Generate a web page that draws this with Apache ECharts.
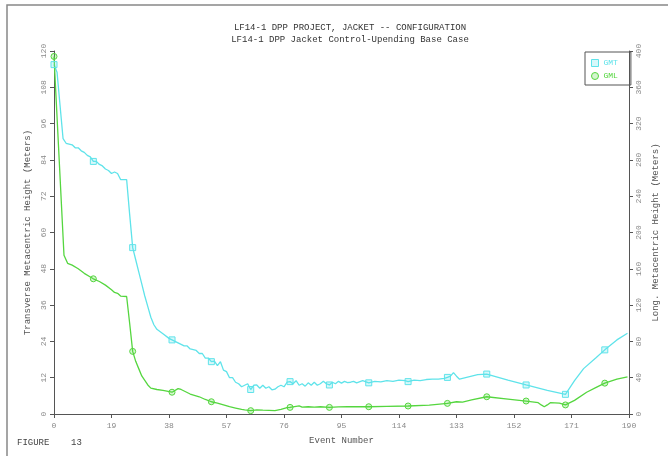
<!DOCTYPE html>
<html>
<head>
<meta charset="utf-8">
<script src="https://cdn.jsdelivr.net/npm/echarts@6/dist/echarts.min.js"></script>
<style>html,body{margin:0;padding:0;background:#fff}#c{width:668px;height:456px}</style>
</head>
<body>
<div id="c"></div>
<script>
// ---- data ----
var titleLines = ['LF14-1 DPP PROJECT, JACKET -- CONFIGURATION', 'LF14-1 DPP Jacket Control-Upending Base Case'];
var xTicks = [0, 19, 38, 57, 76, 95, 114, 133, 152, 171, 190];
var markerEvents = [0, 13, 26, 39, 52, 65, 78, 91, 104, 117, 130, 143, 156, 169, 182];

// GMT (Transverse, left axis, meters)
var gmtX = [0,1,2,3,4,6,7,8,9,10,11,12,13,14,15,16,17,18,19,20,21,22,24,25,26,27,28,29,30,31,32,33,34,36,38,39,41,43,44,45,47,48,49,50,51,52,53,54,55,56,57,58,59,60,61,62,63,64,65,66,67,68,69,70,71,72,73,74,75,76,77,78,79,80,81,82,83,84,85,86,87,88,89,90,91,92,93,94,95,96,97,98,99,100,102,104,106,108,110,112,114,116,117,119,121,123,125,127,129,130,131,132,133,134,136,140,143,150,156,163,169,172,175,179,182,186,189.5];
var gmtY = [115.5,113,102,91,89.5,89,88,88,87,86.5,85.5,85,83.5,83.5,82.5,82,81,80.5,79.5,80,79.5,77.5,77.5,66,55,51,47,43,39,35.5,32,29.5,28,26.5,25,24.5,23.5,22.5,22.5,21.5,21,20,20,18.5,18.5,17.3,17.5,16,17.3,14.5,14,12,12,10.5,10,9,9.5,10,8.1,9.5,9.6,8.5,9.5,8.5,9,8,8.2,9,9.5,9,10.5,10.7,10,11,9.5,10,9.2,10.3,9.5,10.5,9.5,10,10.8,10,9.6,10.5,10,10.8,10.2,10.8,10.4,10.5,10.8,10.3,11,10.3,10.8,10.6,11,10.8,11.2,11,10.7,11.2,11,11.4,11.5,11.5,11.8,12.1,12.5,13.7,12.5,11.5,12,13,13.2,11.2,9.6,7.8,6.5,11,15,18.5,21.2,24.5,26.7];

// GML (Longitudinal, right axis, meters)
var gmlX = [0,3.3,4.5,6,8,10,12,13,15,17,19,20,21,22,24,25,26,27,28,29,30,31,32,34,36,39,41,42,45,48,50,52,54,56,58,60,62,63,65,67,69,71,73,75,77,78,80,81,82,84,86,88,91,94,97,100,104,110,117,124,130,133,135,138,143,150,156,160,161,162,163,164,167,169,172,176,179,182,186,189.5];
var gmlY = [394,175,166,164,160,155,151,149,146,142,137,134,133,130,129.5,100,69,58,50,42,37,32,28.5,27,26,24,28,27,22,19,16,13.5,12,10,8,6.5,5,4.5,3.7,4.5,4.2,4,3.8,5,7,7.3,8.5,9,7.5,8,7.5,8,7.3,7.8,8,8.2,8,8.5,8.8,9.8,11.7,13.5,13,15.5,19,16.5,14.3,12.5,10,8,10,12.5,12,10,15,24,29,34,38.5,41];

var colGMT = '#5fe3ea';
var colGML = '#55d63f';
var fontFam = '"Liberation Mono", "DejaVu Sans Mono", monospace';

function build(xs, ys, sym) {
  return xs.map(function (x, i) {
    var item = { value: [x, ys[i]] };
    if (markerEvents.indexOf(x) >= 0) { item.symbol = sym; item.symbolSize = 6; }
    else { item.symbol = 'none'; }
    return item;
  });
}

var chart = echarts.init(document.getElementById('c'), null, { renderer: 'canvas' });
var axisCommon = {
  axisLine: { show: true, lineStyle: { color: '#555', width: 1 } },
  axisTick: { show: true, length: 4, lineStyle: { color: '#555' } },
  splitLine: { show: false },
  axisLabel: { fontFamily: fontFam, fontSize: 8, color: '#888' },
  nameTextStyle: { fontFamily: fontFam, fontSize: 9, color: '#555' }
};
chart.setOption({
  animation: false,
  backgroundColor: '#fff',
  title: {
    text: titleLines.join('\n'),
    left: 345, top: 17, textAlign: 'center',
    textStyle: { fontFamily: fontFam, fontSize: 9, fontWeight: 'normal', color: '#333', lineHeight: 12 }
  },
  legend: {
    orient: 'vertical',
    left: 585, top: 52,
    padding: [7, 13, 5, 6],
    itemGap: 5,
    itemWidth: 7, itemHeight: 7,
    borderColor: '#555', borderWidth: 1,
    textStyle: { fontFamily: fontFam, fontSize: 8 },
    data: [
      { name: 'GMT', icon: 'rect', itemStyle: { color: 'rgba(95,227,234,0.25)', borderColor: colGMT, borderWidth: 1 }, textStyle: { color: colGMT } },
      { name: 'GML', icon: 'circle', itemStyle: { color: 'rgba(85,214,63,0.25)', borderColor: colGML, borderWidth: 1 }, textStyle: { color: colGML } }
    ]
  },
  grid: { left: 54, right: 34, top: 51, bottom: 42, containLabel: false },
  xAxis: Object.assign({}, axisCommon, {
    type: 'value', min: 0, max: 190, interval: 19,
    name: 'Event Number', nameLocation: 'middle', nameGap: 22,
    axisLabel: Object.assign({}, axisCommon.axisLabel, { margin: 8, customValues: xTicks }),
    axisTick: Object.assign({}, axisCommon.axisTick, { customValues: xTicks })
  }),
  yAxis: [
    Object.assign({}, axisCommon, {
      type: 'value', min: 0, max: 120, interval: 12, position: 'left',
      name: 'Transverse Metacentric Height (Meters)', nameLocation: 'middle', nameGap: 14, nameRotate: 90,
      axisLabel: Object.assign({}, axisCommon.axisLabel, { rotate: 90, margin: 6 })
    }),
    Object.assign({}, axisCommon, {
      type: 'value', min: 0, max: 400, interval: 40, position: 'right',
      name: 'Long. Metacentric Height (Meters)', nameLocation: 'middle', nameGap: 22, nameRotate: 90,
      axisLabel: Object.assign({}, axisCommon.axisLabel, { rotate: 90, margin: 6 })
    })
  ],
  series: [
    {
      name: 'GMT', type: 'line', yAxisIndex: 0, showAllSymbol: true,
      data: build(gmtX, gmtY, 'rect'),
      lineStyle: { color: colGMT, width: 1.3 },
      itemStyle: { color: 'rgba(95,227,234,0.25)', borderColor: colGMT, borderWidth: 1 }
    },
    {
      name: 'GML', type: 'line', yAxisIndex: 1, showAllSymbol: true,
      data: build(gmlX, gmlY, 'circle'),
      lineStyle: { color: colGML, width: 1.3 },
      itemStyle: { color: 'rgba(85,214,63,0.25)', borderColor: colGML, borderWidth: 1 }
    }
  ],
  graphic: [
    { type: 'rect', shape: { x: 7, y: 5, width: 700, height: 500 }, style: { fill: 'none', stroke: '#888', lineWidth: 1.5 }, silent: true },
    { type: 'text', left: 17, top: 438, style: { text: 'FIGURE    13', font: '9px ' + fontFam, fill: '#444' } }
  ]
});
</script>
</body>
</html>
